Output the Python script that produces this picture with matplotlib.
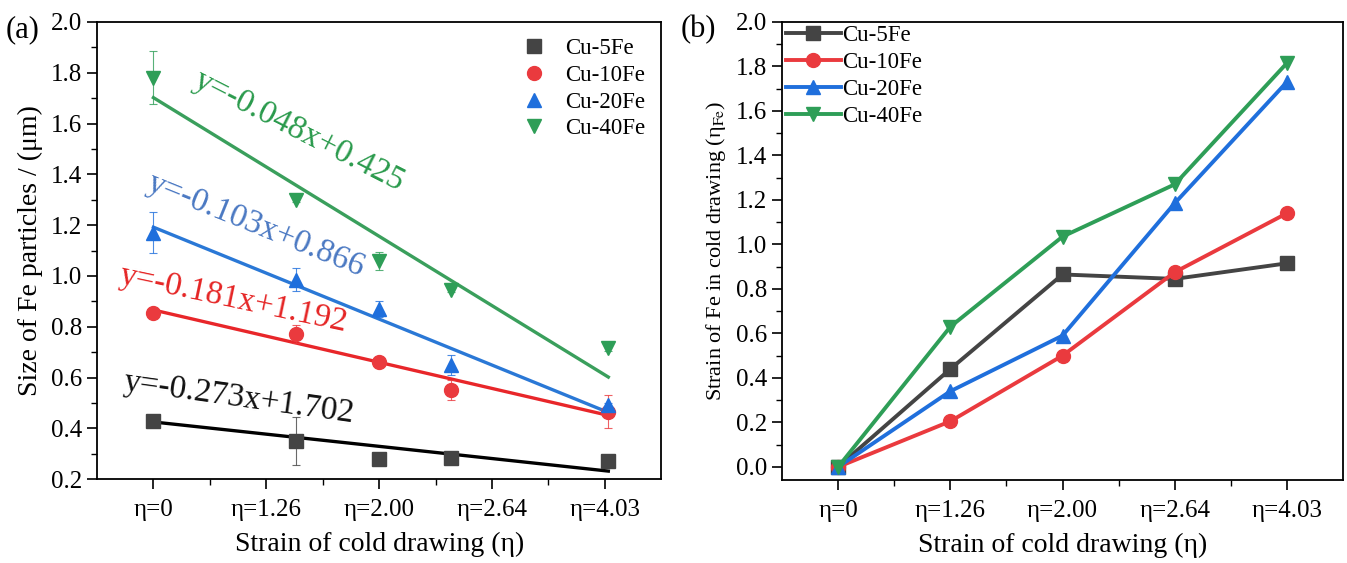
import matplotlib.pyplot as plt
import numpy as np

plt.rcParams['font.family'] = ['Liberation Serif', 'DejaVu Serif']
plt.rcParams['mathtext.fontset'] = 'stix'

# ---- data ----
eta = np.array([0, 1.26, 2.00, 2.64, 4.03])
tick_labels = ['η=0', 'η=1.26', 'η=2.00', 'η=2.64', 'η=4.03']
series = ['Cu-5Fe', 'Cu-10Fe', 'Cu-20Fe', 'Cu-40Fe']

# (a) particle size, µm
size_5 = [0.43, 0.35, 0.28, 0.285, 0.27]
size_10 = [0.855, 0.77, 0.66, 0.55, 0.465]
size_20 = [1.17, 0.985, 0.87, 0.65, 0.49]
size_40 = [1.78, 1.30, 1.06, 0.945, 0.715]
err_5 = [0.01, 0.095, 0.02, 0.01, 0.01]
err_10 = [0.01, 0.035, 0.01, 0.04, 0.065]
err_20 = [0.08, 0.045, 0.03, 0.04, 0.01]
err_40 = [0.105, 0.01, 0.035, 0.01, 0.01]

# linear fits as drawn (slope, intercept) and the equation text printed next to each
fit_slope = [-0.048, -0.103, -0.181, -0.273]
fit_icpt = [0.425, 0.866, 1.192, 1.702]
eq_text = ['y=-0.273x+1.702', 'y=-0.181x+1.192', 'y=-0.103x+0.866', 'y=-0.048x+0.425']

# (b) strain of Fe
strain_5 = [0, 0.44, 0.865, 0.845, 0.915]
strain_10 = [0, 0.205, 0.50, 0.875, 1.14]
strain_20 = [0, 0.34, 0.59, 1.185, 1.73]
strain_40 = [0, 0.63, 1.035, 1.27, 1.815]

colors = ['#444444', '#ea3a3e', '#1f6fdc', '#2e9e57']
line_colors = ['#000000', '#e8262a', '#2a78d6', '#3a9f5c']
text_colors = ['#111111', '#e52525', '#4a78c2', '#2a9a4c']
markers = ['s', 'o', '^', 'v']

sizes = [size_5, size_10, size_20, size_40]
errs = [err_5, err_10, err_20, err_40]
strains = [strain_5, strain_10, strain_20, strain_40]

fig = plt.figure(figsize=(13.47, 5.63), dpi=100)
ax1 = fig.add_axes([0.072, 0.149, 0.419, 0.812])
ax2 = fig.add_axes([0.5806, 0.147, 0.4164, 0.814])

pos = np.arange(1, 6)

# ---- panel (a) ----
xa = eta + 1
for i in range(4):
    ax1.errorbar(xa, sizes[i], yerr=errs[i], fmt='none', ecolor=colors[i],
                 elinewidth=0.8, capsize=3, capthick=0.8, alpha=0.8, zorder=3)
    ax1.plot(xa, sizes[i], markers[i], color=colors[i], ms=10, label=series[i], zorder=3)
    ax1.plot(xa, fit_icpt[i] + fit_slope[i] * eta, color=line_colors[i], lw=2.4, zorder=2)

# equation labels: (x, y, rotation)
eq_pos = [(1.76, 0.52, -8), (1.71, 0.91, -12), (1.91, 1.20, -22), (2.29, 1.57, -27)]
for i in range(4):
    x, y, r = eq_pos[i]
    ax1.text(x, y, eq_text[i], color=text_colors[i], fontsize=24, rotation=r,
             rotation_mode='anchor', ha='center', va='center', zorder=4)

ax1.set_xlim(0.5, 5.5)
ax1.set_ylim(0.2, 2.0)
ax1.set_xticks(pos)
ax1.set_xticklabels(tick_labels)
ax1.set_xticks(pos[:-1] + 0.5, minor=True)
ax1.set_yticks(np.arange(0.2, 2.01, 0.2))
ax1.set_yticks(np.arange(0.3, 2.0, 0.2), minor=True)
ax1.set_xlabel('Strain of cold drawing (η)', fontsize=20, labelpad=8)
ax1.set_ylabel('Size of Fe particles / (μm)', fontsize=20, labelpad=6)
ax1.legend(loc='upper right', frameon=False, fontsize=16.5, handletextpad=0.6,
           labelspacing=0.25, borderaxespad=0.3, handlelength=1.5)

# ---- panel (b) ----
for i in range(4):
    ax2.plot(pos, strains[i], marker=markers[i], color=colors[i],
             ms=10, lw=2.8, label=series[i])

ax2.set_xlim(0.5, 5.5)
ax2.set_ylim(-0.06, 2.0)
ax2.set_xticks(pos)
ax2.set_xticklabels(tick_labels)
ax2.set_xticks(pos[:-1] + 0.5, minor=True)
ax2.set_yticks(np.arange(0, 2.01, 0.2))
ax2.set_yticks(np.arange(0.1, 2.0, 0.2), minor=True)
ax2.set_xlabel('Strain of cold drawing (η)', fontsize=20, labelpad=8)
ax2.set_ylabel('Strain of Fe in cold drawing (η$_{\\mathrm{Fe}}$)', fontsize=16, labelpad=6)
ax2.legend(loc='upper left', frameon=False, fontsize=16.5, handlelength=2.4,
           handletextpad=0.05, labelspacing=0.25, borderaxespad=0.0, borderpad=0.15)

fig.text(0.004, 0.947, '(a)', fontsize=22, ha='left', va='center')
fig.text(0.505, 0.947, '(b)', fontsize=22, ha='left', va='center')

for ax in (ax1, ax2):
    for s in ax.spines.values():
        s.set_linewidth(1.3)
    ax.tick_params(which='major', direction='out', length=7, width=1.2, labelsize=18)
    ax.tick_params(which='minor', direction='out', length=4, width=1.0)
    ax.tick_params(axis='x', pad=7)
    ax.yaxis.set_major_formatter(plt.FormatStrFormatter('%.1f'))

fig.savefig('out.png', dpi=100)
